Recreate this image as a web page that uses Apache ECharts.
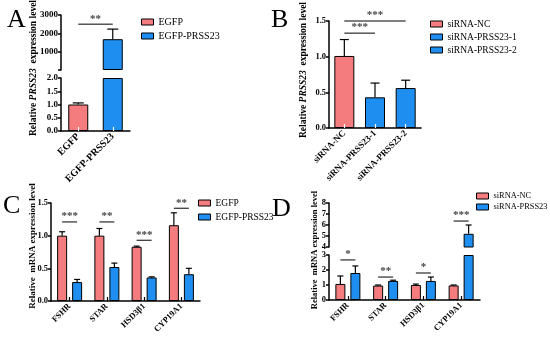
<!DOCTYPE html>
<html><head><meta charset="utf-8">
<script src="https://cdn.jsdelivr.net/npm/echarts@6/dist/echarts.min.js"></script>
<style>html,body{margin:0;padding:0;background:#fff}#c{width:550px;height:337px}</style>
</head><body><div id="c"></div>
<script>
// ---------- DATA ----------
// Panel A
const aCats = ['EGFP', 'EGFP-PRSS23'];
const aMean = [1.0, 1680];
const aErr  = [1.06, 2230];
const aSig  = [[0, 1, 2500, '**']];
// Panel B
const bCats = ['siRNA-NC', 'siRNA-PRSS23-1', 'siRNA-PRSS23-2'];
const bMean = [1.01, 0.43, 0.56];
const bErr  = [1.24, 0.63, 0.67];
const bSig  = [[0, 1, 1.33, '***'], [0, 2, 1.5, '***']];
// Panel C
const cCats = ['FSHR', 'STAR', 'HSD3β1', 'CYP19A1'];
const cEGFP = [1.0, 1.0, 0.83, 1.16];
const cEGFPErr = [1.06, 1.11, 0.84, 1.35];
const cPRSS = [0.29, 0.52, 0.36, 0.41];
const cPRSSErr = [0.33, 0.58, 0.37, 0.50];
const cSig = [[0, 1.21, '***'], [1, 1.21, '**'], [2, 0.93, '***'], [3, 1.42, '**']];
// Panel D
const dCats = ['FSHR', 'STAR', 'HSD3β1', 'CYP19A1'];
const dNC = [1.07, 0.96, 1.0, 0.97];
const dNCErr = [1.6, 1.0, 1.06, 1.0];
const dSi = [1.8, 1.27, 1.27, 5.2];
const dSiErr = [2.27, 1.32, 1.53, 6.0];
const dSig = [[0, 2.67, '*'], [1, 1.53, '**'], [2, 1.8, '*'], [3, 6.36, '***']];
// axis ranges (break segments)
const aLow = [0, 2], aHigh = [0, 3000];
const dLow = [0, 3], dHigh = [4, 8];

// ---------- STYLE ----------
const PINK = '#F47C7E', BLUE = '#1E8FF0';
const FONT = 'Liberation Serif';
const GW = 10, GOFF = 7.5; // grouped bar width and half-spacing

function low(v, r) { return v === '-' ? '-' : Math.min(v, r[1]); }
function high(v, rl) { return v === '-' ? '-' : (v > rl[1] ? v : '-'); }

function yAx(grid, min, max, interval, fmt, fs) {
  return {gridIndex: grid, type: 'value', min, max, interval,
    axisLine: {show: true, lineStyle: {color: '#000', width: 1.5}},
    axisTick: {show: true, length: 3, lineStyle: {color: '#000', width: 1.5}},
    splitLine: {show: false},
    axisLabel: {margin: 3, formatter: fmt, fontFamily: FONT, fontWeight: 'bold', fontSize: fs, color: '#000'}};
}
function xAx(grid, cats, show, tickColor, fs) {
  if (!show) return {gridIndex: grid, type: 'category', data: cats, show: false};
  return {gridIndex: grid, type: 'category', data: cats, z: 5,
    axisLine: {show: true, lineStyle: {color: '#000', width: 1.5}},
    axisTick: {show: true, inside: true, alignWithLabel: true, length: 4, lineStyle: {color: tickColor, width: 1.2}},
    axisLabel: {rotate: 45, margin: 4, interval: 0, fontFamily: FONT, fontWeight: 'bold', fontSize: fs, color: '#000'}};
}
function bar(name, grid, data, color, extra) {
  return Object.assign({type: 'bar', name, xAxisIndex: grid, yAxisIndex: grid, data,
    itemStyle: {color, borderColor: '#000', borderWidth: 1}, silent: true, animation: false}, extra || {});
}
// error bars: items [catIndex, base, top]
function errBars(grid, items, offset, capW) {
  return {type: 'custom', xAxisIndex: grid, yAxisIndex: grid, data: items, silent: true, animation: false, z: 4,
    renderItem(params, api) {
      const p0 = api.coord([api.value(0), api.value(1)]);
      const p1 = api.coord([api.value(0), api.value(2)]);
      const x = p0[0] + offset;
      return {type: 'group', children: [
        {type: 'line', shape: {x1: x, y1: p0[1], x2: x, y2: p1[1]}, style: {stroke: '#000', lineWidth: 1.2}},
        {type: 'line', shape: {x1: x - capW / 2, y1: p1[1], x2: x + capW / 2, y2: p1[1]}, style: {stroke: '#000', lineWidth: 1.2}}
      ]};
    }};
}
function splitErr(means, errs, lowR, highR) {
  const lo = [], hi = [];
  means.forEach((m, i) => {
    const e = errs[i];
    if (e <= lowR[1]) lo.push([i, m, e]);
    else hi.push([i, Math.max(m, highR[0]), e]);
  });
  return [lo, hi];
}
// significance: items [i1, i2, y, text] with offsets
function sig(grid, items, off1, off2) {
  return {type: 'custom', xAxisIndex: grid, yAxisIndex: grid, data: items.map(d => [d[0], d[1], d[2]]), silent: true, animation: false, z: 4,
    renderItem(params, api) {
      const idx = params.dataIndex;
      const a = api.coord([api.value(0), api.value(2)]);
      const b = api.coord([api.value(1), api.value(2)]);
      const x1 = a[0] + off1, x2 = b[0] + off2, y = a[1];
      return {type: 'group', children: [
        {type: 'line', shape: {x1, y1: y, x2, y2: y}, style: {stroke: '#000', lineWidth: 1}},
        {type: 'text', x: (x1 + x2) / 2, y: y, style: {text: items[idx][3], fill: '#444', font: 'bold 11px ' + FONT, align: 'center', verticalAlign: 'bottom'}}
      ]};
    }};
}

const [aELo, aEHi] = splitErr(aMean, aErr, aLow, aHigh);
const [dNCLo, dNCHi] = splitErr(dNC, dNCErr, dLow, dHigh);
const [dSiLo, dSiHi] = splitErr(dSi, dSiErr, dLow, dHigh);

const single = (arr, k) => arr.map((v, i) => i === k ? v : '-');

const option = {
  animation: false,
  backgroundColor: '#fff',
  grid: [
    {left: 61, top: 15, width: 69, height: 55},
    {left: 61, top: 78, width: 69, height: 53},
    {left: 329, top: 21, width: 92, height: 107},
    {left: 51, top: 203, width: 149, height: 98},
    {left: 329, top: 203, width: 151, height: 44},
    {left: 329, top: 255, width: 151, height: 45}
  ],
  xAxis: [
    xAx(0, aCats, false), xAx(1, aCats, true, '#fff', 10), xAx(2, bCats, true, '#fff', 9),
    xAx(3, cCats, true, '#000', 8.5), xAx(4, dCats, false), xAx(5, dCats, true, '#000', 8.5)
  ],
  yAxis: [
    yAx(0, aHigh[0], aHigh[1], 1000, v => v === 0 ? '' : String(v), 9),
    yAx(1, aLow[0], aLow[1], 0.5, v => v.toFixed(1), 9),
    yAx(2, 0, 1.5, 0.5, v => v.toFixed(1), 8.5),
    yAx(3, 0, 1.5, 0.5, v => v.toFixed(1), 8.5),
    yAx(4, dHigh[0], dHigh[1], 1, v => String(v), 8.5),
    yAx(5, dLow[0], dLow[1], 1, v => String(v), 8.5)
  ],
  legend: [
    {data: ['EGFP', 'EGFP-PRSS23'], left: 141, top: 17, itemGap: 4, fs: 10},
    {data: ['siRNA-NC', 'siRNA-PRSS23-1', 'siRNA-PRSS23-2'], left: 430, top: 19, itemGap: 3, fs: 9.5},
    {data: ['EGFP', 'EGFP-PRSS23'], left: 198, top: 198, itemGap: 4, fs: 9.5},
    {data: ['siRNA-NC', 'siRNA-PRSS23'], left: 476, top: 192, itemGap: 3, fs: 8.4}
  ].map(l => {
    const fs = l.fs; delete l.fs;
    return Object.assign({orient: 'vertical', padding: 0, itemWidth: 12, itemHeight: 6, icon: 'rect',
      selectedMode: false, itemStyle: {borderColor: '#000', borderWidth: 1},
      textStyle: {fontFamily: FONT, fontSize: fs, color: '#000'}}, l);
  }),
  series: [
    // A
    bar('EGFP', 0, single(aMean, 0).map(v => high(v, aLow)), PINK, {barWidth: 20, barGap: '-100%'}),
    bar('EGFP-PRSS23', 0, single(aMean, 1).map(v => high(v, aLow)), BLUE, {barWidth: 20, barGap: '-100%'}),
    bar('EGFP', 1, single(aMean, 0).map(v => low(v, aLow)), PINK, {barWidth: 20, barGap: '-100%'}),
    bar('EGFP-PRSS23', 1, single(aMean, 1).map(v => low(v, aLow)), BLUE, {barWidth: 20, barGap: '-100%'}),
    errBars(1, aELo, 0, 11), errBars(0, aEHi, 0, 11),
    sig(0, aSig, 0, 0),
    // B
    bar('siRNA-NC', 2, single(bMean, 0), PINK, {barWidth: 20, barGap: '-100%'}),
    bar('siRNA-PRSS23-1', 2, single(bMean, 1), BLUE, {barWidth: 20, barGap: '-100%'}),
    bar('siRNA-PRSS23-2', 2, single(bMean, 2), BLUE, {barWidth: 20, barGap: '-100%'}),
    errBars(2, bMean.map((m, i) => [i, m, bErr[i]]), 0, 9),
    sig(2, bSig, 0, 0),
    // C
    bar('EGFP', 3, cEGFP, PINK, {barWidth: GW, barGap: '50%'}),
    bar('EGFP-PRSS23', 3, cPRSS, BLUE, {barWidth: GW, barGap: '50%'}),
    errBars(3, cEGFP.map((m, i) => [i, m, cEGFPErr[i]]), -GOFF, 6),
    errBars(3, cPRSS.map((m, i) => [i, m, cPRSSErr[i]]), GOFF, 6),
    sig(3, cSig.map(d => [d[0], d[0], d[1], d[2]]), -GOFF, GOFF),
    // D
    bar('siRNA-NC', 4, dNC.map(v => high(v, dLow)), PINK, {barWidth: GW, barGap: '50%'}),
    bar('siRNA-PRSS23', 4, dSi.map(v => high(v, dLow)), BLUE, {barWidth: GW, barGap: '50%'}),
    bar('siRNA-NC', 5, dNC.map(v => low(v, dLow)), PINK, {barWidth: GW, barGap: '50%'}),
    bar('siRNA-PRSS23', 5, dSi.map(v => low(v, dLow)), BLUE, {barWidth: GW, barGap: '50%'}),
    errBars(5, dNCLo, -GOFF, 6), errBars(4, dNCHi, -GOFF, 6),
    errBars(5, dSiLo, GOFF, 6), errBars(4, dSiHi, GOFF, 6),
    sig(5, dSig.filter(d => d[1] <= dLow[1]).map(d => [d[0], d[0], d[1], d[2]]), -GOFF, GOFF),
    sig(4, dSig.filter(d => d[1] > dLow[1]).map(d => [d[0], d[0], d[1], d[2]]), -GOFF, GOFF)
  ],
  graphic: [
    {type: 'text', x: 7, y: 20, style: {text: 'A', font: '26px ' + FONT, fill: '#000', verticalAlign: 'middle'}},
    {type: 'text', x: 271, y: 20, style: {text: 'B', font: '26px ' + FONT, fill: '#000', verticalAlign: 'middle'}},
    {type: 'text', x: 3, y: 206, style: {text: 'C', font: '26px ' + FONT, fill: '#000', verticalAlign: 'middle'}},
    {type: 'text', x: 272, y: 209, style: {text: 'D', font: '26px ' + FONT, fill: '#000', verticalAlign: 'middle'}},
    {type: 'text', x: 34, y: 68, rotation: Math.PI / 2, style: {
      text: '{a|Relative }{b|PRSS23}{a|  expression level}', align: 'center', verticalAlign: 'middle',
      rich: {a: {fontFamily: FONT, fontWeight: 'bold', fontSize: 9.5, fill: '#000'}, b: {fontFamily: FONT, fontWeight: 'bold', fontStyle: 'italic', fontSize: 9.5, fill: '#000'}}}},
    {type: 'text', x: 304, y: 70, rotation: Math.PI / 2, style: {
      text: '{a|Relative }{b|PRSS23}{a|  expression level}', align: 'center', verticalAlign: 'middle',
      rich: {a: {fontFamily: FONT, fontWeight: 'bold', fontSize: 9.5, fill: '#000'}, b: {fontFamily: FONT, fontWeight: 'bold', fontStyle: 'italic', fontSize: 9.5, fill: '#000'}}}},
    {type: 'text', x: 33, y: 246, rotation: Math.PI / 2, style: {
      text: 'Relative  mRNA expression level', align: 'center', verticalAlign: 'middle',
      font: 'bold 9px ' + FONT, fill: '#000'}},
    {type: 'text', x: 315, y: 250, rotation: Math.PI / 2, style: {
      text: 'Relative  mRNA expression level', align: 'center', verticalAlign: 'middle',
      font: 'bold 8.5px ' + FONT, fill: '#000'}}
  ]
};
const chart = echarts.init(document.getElementById('c'), null, {renderer: 'canvas'});
chart.setOption(option);
</script>
</body></html>
